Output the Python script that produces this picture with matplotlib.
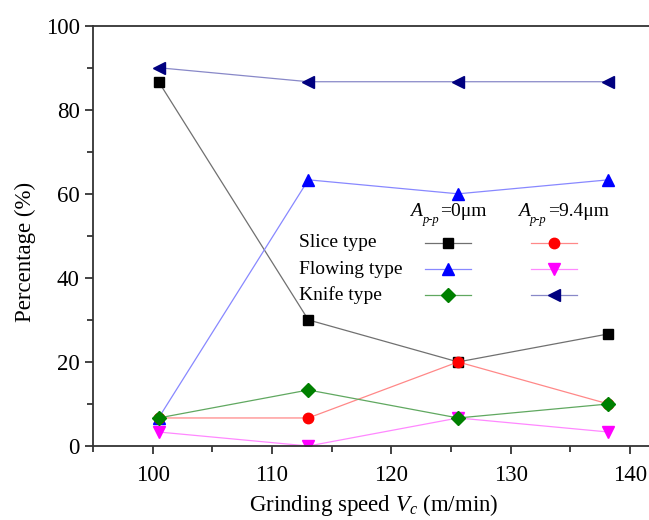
import matplotlib
matplotlib.use("Agg")
import matplotlib.pyplot as plt
from matplotlib.lines import Line2D
from matplotlib.ticker import MultipleLocator

plt.rcParams['font.family'] = ['Liberation Serif', 'DejaVu Serif']
plt.rcParams['mathtext.fontset'] = 'custom'
plt.rcParams['mathtext.rm'] = 'Liberation Serif'
plt.rcParams['mathtext.it'] = 'Liberation Serif:italic'

# Grinding speeds (m/min)
speed = [100.5, 113.05, 125.6, 138.2]

# Percentages for A_p-p = 0 um
slice_0 = [86.67, 30.0, 20.0, 26.67]
flowing_0 = [6.67, 63.33, 60.0, 63.33]
knife_0 = [6.67, 13.33, 6.67, 10.0]

# Percentages for A_p-p = 9.4 um
slice_94 = [6.67, 6.67, 20.0, 10.0]
flowing_94 = [3.33, 0.0, 6.67, 3.33]
knife_94 = [90.0, 86.67, 86.67, 86.67]

row_labels = ["Slice type", "Flowing type", "Knife type"]

W, H = 649, 520
fig = plt.figure(figsize=(W / 100, H / 100), dpi=100)
ax_l, ax_r, ax_t, ax_b = 93, 649, 25.7, 446
ax = fig.add_axes([ax_l / W, 1 - ax_b / H, (ax_r - ax_l) / W, (ax_b - ax_t) / H])

styles = [
    # (data, line colour, marker, marker colour, size)
    (slice_0, '#707070', 's', 'black', 6.5),
    (flowing_0, '#8888ff', '^', 'blue', 8),
    (slice_94, '#ff8888', 'o', 'red', 7.5),
    (flowing_94, '#ff88ff', 'v', 'magenta', 8),
    (knife_94, '#8888c8', '<', '#00007f', 8),
    (knife_0, '#60a860', 'D', 'green', 7),
]
for data, lc, mk, mc, ms in styles:
    ax.plot(speed, data, color=lc, lw=0.9, marker=mk, markersize=ms,
            markerfacecolor=mc, markeredgecolor=mc)

ax.set_xlim(95, 141.6)
ax.set_ylim(0, 100)
ax.xaxis.set_major_locator(MultipleLocator(10))
ax.xaxis.set_minor_locator(MultipleLocator(5))
ax.yaxis.set_major_locator(MultipleLocator(20))
ax.yaxis.set_minor_locator(MultipleLocator(10))
ax.tick_params(which='major', direction='out', length=6, width=1.2,
               labelsize=16.5, colors='#222222', labelcolor='black')
ax.tick_params(which='minor', direction='out', length=4, width=1.2,
               colors='#222222')
ax.tick_params(axis='x', pad=8)
ax.spines['right'].set_visible(False)
for s in ('left', 'bottom', 'top'):
    ax.spines[s].set_linewidth(1.3)
    ax.spines[s].set_color('#333333')

fig.text(374 / W, 1 - 505 / H, r'Grinding speed $V_c$ (m/min)',
         ha='center', va='center', fontsize=16.5)
fig.text(25 / W, 1 - 252 / H, 'Percentage (%)', rotation=90,
         ha='center', va='center', fontsize=16.5)


def fx(x):
    return x / W


def fy(y):
    return 1 - y / H


# Two-column key with headers
fs = 14
hdr_base = 216
for x0, sub_x, rest_x, rest in ((410, 422.5, 440.5, '=0μm'),
                                (517.7, 530, 548.3, '=9.4μm')):
    fig.text(fx(x0), fy(hdr_base), 'A', style='italic', fontsize=fs,
             ha='left', va='baseline')
    fig.text(fx(sub_x), fy(hdr_base + 7), 'p-p', style='italic', fontsize=9,
             ha='left', va='baseline')
    fig.text(fx(rest_x), fy(hdr_base), rest, fontsize=fs,
             ha='left', va='baseline')

row_y = [242.7, 269, 295]
col_x = [(425, 471), (530.7, 576.7)]
left_col = styles[0], styles[1], styles[5]
right_col = styles[2], styles[3], styles[4]
for i, label in enumerate(row_labels):
    y = row_y[i]
    fig.text(fx(299.3), fy(y), label, fontsize=fs, ha='left', va='center')
    for (xa, xb), st in zip(col_x, (left_col[i], right_col[i])):
        _, lc, mk, mc, ms = st
        fig.add_artist(Line2D([fx(xa), fx(xb)], [fy(y), fy(y)],
                              transform=fig.transFigure, color=lc, lw=0.9))
        fig.add_artist(Line2D([fx((xa + xb) / 2)], [fy(y)],
                              transform=fig.transFigure, marker=mk,
                              markersize=ms, markerfacecolor=mc,
                              markeredgecolor=mc, linestyle='none'))

fig.savefig('out.png', dpi=100)
